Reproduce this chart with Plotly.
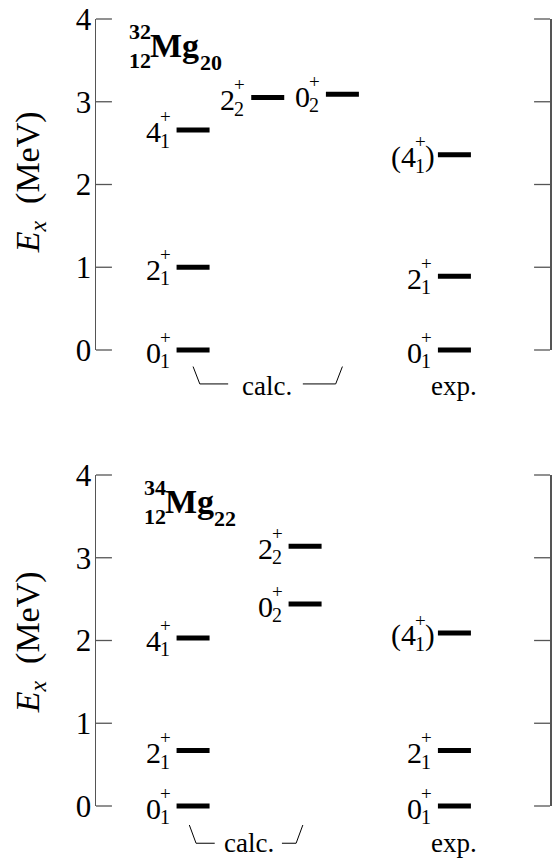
import plotly.graph_objects as go

# ---------------- data ----------------
# 32Mg (top panel)
top_calc_E = [0.0, 1.0, 2.66, 3.05, 3.09]
top_calc_J = ["0", "2", "4", "2", "0"]
top_calc_n = ["1", "1", "1", "2", "2"]
top_calc_col = [1, 1, 1, 2, 3]
top_exp_E = [0.0, 0.89, 2.36]
top_exp_J = ["0", "2", "4"]
top_exp_n = ["1", "1", "1"]
top_exp_tentative = [False, False, True]

# 34Mg (bottom panel)
bot_calc_E = [0.0, 0.67, 2.03, 2.44, 3.14]
bot_calc_J = ["0", "2", "4", "0", "2"]
bot_calc_n = ["1", "1", "1", "2", "2"]
bot_calc_col = [1, 1, 1, 2.5, 2.5]
bot_exp_E = [0.0, 0.67, 2.09]
bot_exp_J = ["0", "2", "4"]
bot_exp_n = ["1", "1", "1"]
bot_exp_tentative = [False, False, True]

exp_col = 4.5
y_ticks = [0, 1, 2, 3, 4]

# ---------------- layout constants ----------------
W, H = 553, 859
ML, MR, MT, MB = 96, 1, 19, 53
PW, PH = W - ML - MR, H - MT - MB
XR = [-0.3, 5.78]
BAR_PX = 33
TICK_PX = 16
DOM_TOP = [(806 - 350) / PH, 1.0]
DOM_BOT = [0.0, (806 - 475) / PH]
FONT = "Liberation Serif, Times New Roman, serif"
HW = BAR_PX / 2 / PW * (XR[1] - XR[0])
AX_COLOR = "#555"


def px_x(px):
    return (px - ML) / PW


def px_y(py):
    return (H - MB - py) / PH


def xp(xd):
    return (xd - XR[0]) / (XR[1] - XR[0])


def yp(e, dom):
    return dom[0] + e / 4.0 * (dom[1] - dom[0])


fig = go.Figure()
annotations = []
shapes = []


def add_levels(E, col, J, n, xa, ya, tentative=None):
    fig.add_trace(go.Scatter(x=col, y=E, mode="markers", xaxis=xa, yaxis=ya,
                             marker=dict(symbol="line-ew", size=BAR_PX / 1.4,
                                         line=dict(color="black", width=5)),
                             cliponaxis=False, hoverinfo="skip", showlegend=False))
    for i, e in enumerate(E):
        c = col[i]
        tent = tentative[i] if tentative else False
        xl = c - HW
        base = dict(xref=xa, yref=ya, x=xl, y=e, showarrow=False,
                    xanchor="right", yanchor="middle")
        if tent:
            annotations.append(dict(base, text=")", xshift=-1, yshift=-2,
                                    font=dict(family=FONT, size=29, color="black")))
            off = -10
            main = "(" + J[i]
            moff = -20
        else:
            off = -4
            main = J[i]
            moff = -14
        annotations.append(dict(base, text="+", xshift=off, yshift=13,
                                font=dict(family=FONT, size=19, color="black")))
        annotations.append(dict(base, text=n[i], xshift=off - 1, yshift=-11,
                                font=dict(family=FONT, size=20, color="black")))
        annotations.append(dict(base, text=main, xshift=moff, yshift=-2,
                                font=dict(family=FONT, size=30, color="black")))


add_levels(top_calc_E, top_calc_col, top_calc_J, top_calc_n, "x", "y")
add_levels(top_exp_E, [exp_col] * len(top_exp_E), top_exp_J, top_exp_n, "x", "y",
           top_exp_tentative)
add_levels(bot_calc_E, bot_calc_col, bot_calc_J, bot_calc_n, "x2", "y2")
add_levels(bot_exp_E, [exp_col] * len(bot_exp_E), bot_exp_J, bot_exp_n, "x2", "y2",
           bot_exp_tentative)


def bracket(x0, x1, gap_l, gap_r, ytop, ybot, slant, dom):
    line = dict(color="black", width=1)
    pts_l = [(x0, ytop), (x0 + slant, ybot), (gap_l, ybot)]
    pts_r = [(gap_r, ybot), (x1 - slant, ybot), (x1, ytop)]
    for pts in (pts_l, pts_r):
        path = "M " + " L ".join(f"{xp(a):.5f},{yp(b, dom):.5f}" for a, b in pts)
        shapes.append(dict(type="path", xref="paper", yref="paper", path=path, line=line))


bracket(1.0, 3.0, 1.47, 2.47, -0.20, -0.41, 0.09, DOM_TOP)
bracket(0.95, 2.47, 1.29, 2.19, -0.23, -0.45, 0.09, DOM_BOT)

# inward tick marks on both side axes of both panels
for dom in (DOM_TOP, DOM_BOT):
    for v in y_ticks:
        yy = yp(v, dom)
        shapes.append(dict(type="line", xref="paper", yref="paper",
                           x0=0, x1=TICK_PX / PW, y0=yy, y1=yy,
                           line=dict(color=AX_COLOR, width=1.3)))
        shapes.append(dict(type="line", xref="paper", yref="paper",
                           x0=1 - TICK_PX / PW, x1=1, y0=yy, y1=yy,
                           line=dict(color=AX_COLOR, width=1.3)))


def label(text, xd, e, dom, size=27):
    annotations.append(dict(xref="paper", yref="paper", x=xp(xd), y=yp(e, dom),
                            text=text, showarrow=False, xanchor="center", yanchor="middle",
                            font=dict(family=FONT, size=size, color="black")))


label("calc.", 1.99, -0.44, DOM_TOP)
label("exp.", exp_col, -0.44, DOM_TOP)
label("calc.", 1.75, -0.45, DOM_BOT)
label("exp.", exp_col, -0.45, DOM_BOT)


def nuclide(A, Z, N, x_px, y_top_px):
    f_small = dict(family=FONT, size=22, color="black")
    f_big = dict(family=FONT, size=34, color="black")
    annotations.append(dict(xref="paper", yref="paper", x=px_x(x_px), y=px_y(y_top_px + 12),
                            text=f"<b>{A}</b>", showarrow=False, xanchor="left",
                            yanchor="middle", font=f_small))
    annotations.append(dict(xref="paper", yref="paper", x=px_x(x_px), y=px_y(y_top_px + 41),
                            text=f"<b>{Z}</b>", showarrow=False, xanchor="left",
                            yanchor="middle", font=f_small))
    annotations.append(dict(xref="paper", yref="paper", x=px_x(x_px + 21), y=px_y(y_top_px + 26),
                            text="<b>Mg</b>", showarrow=False, xanchor="left",
                            yanchor="middle", font=f_big))
    annotations.append(dict(xref="paper", yref="paper", x=px_x(x_px + 71), y=px_y(y_top_px + 43),
                            text=f"<b>{N}</b>", showarrow=False, xanchor="left",
                            yanchor="middle", font=f_small))


nuclide("32", "12", "20", 127, 19)
nuclide("34", "12", "22", 142, 475)

for yc in (182, 642):
    annotations.append(dict(xref="paper", yref="paper", x=px_x(30), y=px_y(yc),
                            text="<i>E</i><sub><i>x</i></sub>  (MeV)", textangle=-90,
                            showarrow=False, xanchor="center", yanchor="middle",
                            font=dict(family=FONT, size=34, color="black")))

yax = dict(range=[0, 4], tickvals=y_ticks, ticktext=[str(v) for v in y_ticks],
           ticks="", showline=True, linecolor=AX_COLOR, linewidth=1.5, mirror=True,
           showgrid=False, zeroline=False, ticklabelstandoff=-3,
           tickfont=dict(family=FONT, size=31, color="black"))
xax = dict(range=XR, visible=False, showgrid=False, zeroline=False)

fig.update_layout(
    width=W, height=H,
    margin=dict(l=ML, r=MR, t=MT, b=MB),
    paper_bgcolor="white", plot_bgcolor="white",
    xaxis=dict(xax, domain=[0, 1], anchor="y"),
    yaxis=dict(yax, domain=DOM_TOP, anchor="x"),
    xaxis2=dict(xax, domain=[0, 1], anchor="y2"),
    yaxis2=dict(yax, domain=DOM_BOT, anchor="x2"),
    annotations=annotations,
    shapes=shapes,
    showlegend=False,
)

fig.write_html("out.html", config={"displayModeBar": False, "staticPlot": True},
               post_script="document.body.style.margin='0';document.body.style.overflow='hidden';")
